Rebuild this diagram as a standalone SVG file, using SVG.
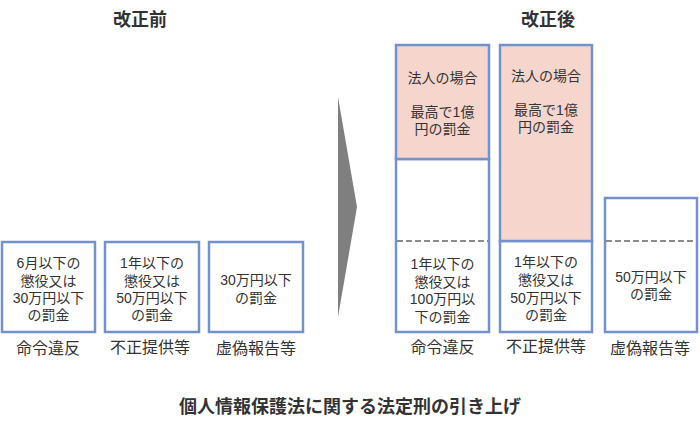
<svg xmlns="http://www.w3.org/2000/svg" width="700" height="426" viewBox="0 0 700 426">
<style>
text{font-family:"Liberation Sans","Noto Sans CJK JP",sans-serif;fill:#333;text-anchor:middle;dominant-baseline:central}
.t{font-size:14px}
.lbl{font-size:16px}
.h{font-size:18px;font-weight:bold}
.box{fill:#fff;stroke:#7391cb;stroke-width:2.5}
.pink{fill:#f5d5cc;stroke:#7391cb;stroke-width:2.5}
.dash{stroke:#666;stroke-width:1.5;stroke-dasharray:6 3;fill:none}
</style>
<rect width="700" height="426" fill="#fff"/>
<text class="h" x="140" y="20">改正前</text>
<text class="h" x="548" y="20">改正後</text>
<g id="before-1">
<rect class="box" x="2" y="242" width="93" height="90"/>
<text class="t" x="48.5" y="263">6月以下の</text>
<text class="t" x="48.5" y="280.5">懲役又は</text>
<text class="t" x="48.5" y="298">30万円以下</text>
<text class="t" x="48.5" y="315">の罰金</text>
<text class="lbl" x="48" y="348">命令違反</text>
</g>
<g id="before-2">
<rect class="box" x="105" y="242" width="94" height="90"/>
<text class="t" x="152" y="263">1年以下の</text>
<text class="t" x="152" y="280.5">懲役又は</text>
<text class="t" x="152" y="298">50万円以下</text>
<text class="t" x="152" y="315">の罰金</text>
<text class="lbl" x="150" y="347">不正提供等</text>
</g>
<g id="before-3">
<rect class="box" x="209" y="242" width="94" height="90"/>
<text class="t" x="256" y="280">30万円以下</text>
<text class="t" x="256" y="297.5">の罰金</text>
<text class="lbl" x="256" y="348">虚偽報告等</text>
</g>
<g id="arrow">
<polygon points="338,97 357,207 338,317" fill="#7f7f7f"/>
</g>
<g id="after-1">
<rect class="box" x="396" y="159" width="93" height="173"/>
<rect class="pink" x="396" y="45" width="93" height="114"/>
<line class="dash" x1="397" y1="241" x2="488" y2="241"/>
<text class="t" x="442.5" y="78">法人の場合</text>
<text class="t" x="442.5" y="112">最高で1億</text>
<text class="t" x="442.5" y="129">円の罰金</text>
<text class="t" x="442.5" y="263.5">1年以下の</text>
<text class="t" x="442.5" y="281.5">懲役又は</text>
<text class="t" x="442.5" y="299">100万円以</text>
<text class="t" x="442.5" y="316.5">下の罰金</text>
<text class="lbl" x="442.5" y="347">命令違反</text>
</g>
<g id="after-2">
<rect class="box" x="500" y="241" width="92" height="91"/>
<rect class="pink" x="500" y="45" width="92" height="196"/>
<text class="t" x="546" y="76">法人の場合</text>
<text class="t" x="546" y="110">最高で1億</text>
<text class="t" x="546" y="127">円の罰金</text>
<text class="t" x="546" y="262">1年以下の</text>
<text class="t" x="546" y="280">懲役又は</text>
<text class="t" x="546" y="298">50万円以下</text>
<text class="t" x="546" y="315">の罰金</text>
<text class="lbl" x="546" y="346">不正提供等</text>
</g>
<g id="after-3">
<rect class="box" x="605" y="198" width="92" height="134"/>
<line class="dash" x1="606" y1="241" x2="696" y2="241"/>
<text class="t" x="651" y="277">50万円以下</text>
<text class="t" x="651" y="293.5">の罰金</text>
<text class="lbl" x="650" y="348">虚偽報告等</text>
</g>
<text class="h" x="350" y="407">個人情報保護法に関する法定刑の引き上げ</text>
</svg>
